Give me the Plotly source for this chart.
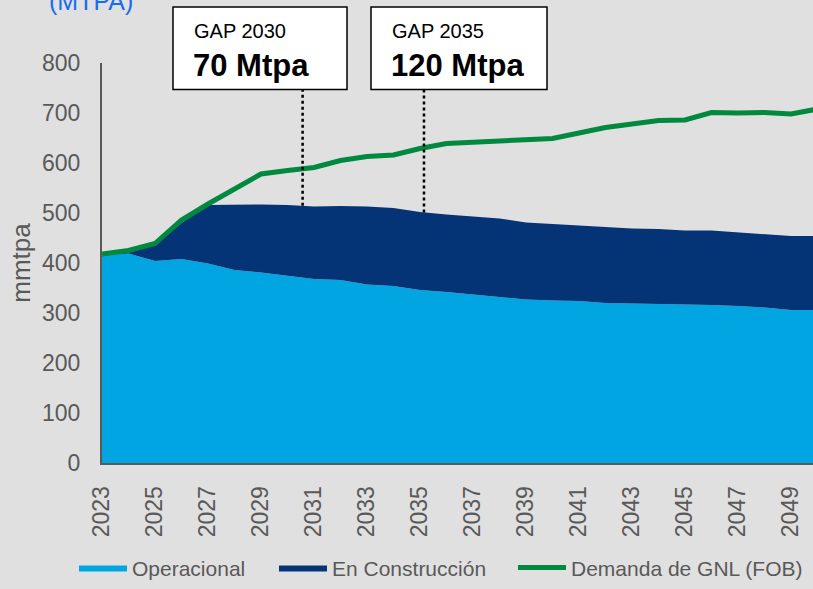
import numpy as np
import plotly.graph_objects as go

years = list(range(2023, 2051))
operacional = [415, 419, 404, 408, 399, 386, 381, 375, 368, 366, 357, 354, 346, 342,
               337, 332, 327, 325, 324, 320, 319, 319, 317, 316, 314, 311, 306, 306]
construccion = [0, 2, 32, 72, 117, 131, 136, 141, 145, 148, 156, 156, 156, 155,
                156, 157, 154, 153, 151, 151, 150, 149, 148, 149, 147, 147, 148, 148]
demanda = [418, 425, 439, 486, 518, 548, 578, 585, 591, 605, 613, 616, 629, 639,
           641, 644, 646, 649, 660, 671, 678, 685, 686, 701, 700, 701, 698, 708]
tick_years = list(range(2023, 2051, 2))
gaps = [("GAP 2030", "70 Mtpa", 2030.57), ("GAP 2035", "120 Mtpa", 2035.15)]

W, H = 813, 589
ML, MR, MT, MB = 102, 0, 63, 118
PW, PH = W - ML - MR, H - MT - MB
def px(x):
    return (x - ML) / PW
def py(y):
    return (H - MB - y) / PH

FONT = "Liberation Sans, Arial, sans-serif"
GRAY = "#595959"
LIGHT = "#00A5E1"
DARK = "#053476"
GREEN = "#00893F"

fig = go.Figure()
fig.add_trace(go.Scatter(x=years, y=operacional, name="Operacional", stackgroup="cap",
                         mode="lines", line=dict(width=0, color=LIGHT), fillcolor=LIGHT,
                         legend="legend"))
fig.add_trace(go.Scatter(x=years, y=construccion, name="En Construcción", stackgroup="cap",
                         mode="lines", line=dict(width=0, color=DARK), fillcolor=DARK,
                         legend="legend2"))
fig.add_trace(go.Scatter(x=years, y=demanda, name="Demanda de GNL (FOB)", mode="lines",
                         line=dict(width=5, color=GREEN), legend="legend3"))

total = np.array(operacional) + np.array(construccion)
shapes = []
annotations = []
box_left = [173, 371]
box_right = [347, 547]
for i, (t1, t2, gx) in enumerate(gaps):
    bottom = float(np.interp(gx, years, total))
    shapes.append(dict(type="line", xref="x", yref="y", x0=gx, x1=gx, y0=bottom,
                       y1=(H - MB - 90) / PH * 800,
                       line=dict(color="black", width=2.5, dash="dot")))
    shapes.append(dict(type="rect", xref="paper", yref="paper",
                       x0=px(box_left[i]), x1=px(box_right[i]), y0=py(90), y1=py(6),
                       fillcolor="white", line=dict(color="black", width=1.5), layer="above"))
    annotations.append(dict(xref="paper", yref="paper", x=px(box_left[i] + 19), y=py(30),
                            xanchor="left", yanchor="middle", showarrow=False, text=t1,
                            font=dict(family=FONT, size=20, color="black")))
    annotations.append(dict(xref="paper", yref="paper", x=px(box_left[i] + 18), y=py(66),
                            xanchor="left", yanchor="middle", showarrow=False,
                            text="<b>" + t2 + "</b>",
                            font=dict(family=FONT, size=31, color="black")))

annotations.append(dict(xref="paper", yref="paper", x=px(91), y=py(0), xanchor="center",
                        yanchor="middle", showarrow=False, text="(MTPA)",
                        font=dict(family=FONT, size=25, color="#1A6CF0")))

def leg(x_px):
    return dict(orientation="h", x=px(x_px), y=py(578), xanchor="left", yanchor="middle",
                font=dict(family=FONT, size=21, color=GRAY), itemwidth=48,
                bgcolor="rgba(0,0,0,0)")

fig.update_layout(
    width=W, height=H,
    margin=dict(l=ML, r=MR, t=MT, b=MB),
    paper_bgcolor="#E0E0E0", plot_bgcolor="#E0E0E0",
    font=dict(family=FONT, size=21, color=GRAY),
    showlegend=True,
    legend=leg(74), legend2=leg(274), legend3=leg(513),
    shapes=shapes, annotations=annotations,
    xaxis=dict(range=[2023, 2023 + PW / 26.5], tickvals=tick_years,
               ticktext=[str(y) for y in tick_years], tickangle=-90,
               showgrid=False, zeroline=False, showline=True, linecolor=GRAY, linewidth=2,
               ticks="", tickfont=dict(family=FONT, size=23, color=GRAY),
               ticklabelstandoff=12),
    yaxis=dict(range=[0, 800], dtick=100, showgrid=False, zeroline=False, showline=True,
               linecolor=GRAY, linewidth=2, ticks="",
               tickfont=dict(family=FONT, size=23, color=GRAY), ticklabelstandoff=15,
               title=dict(text="mmtpa", font=dict(family=FONT, size=26, color=GRAY),
                          standoff=4)),
)

fig.write_html("out.html")
